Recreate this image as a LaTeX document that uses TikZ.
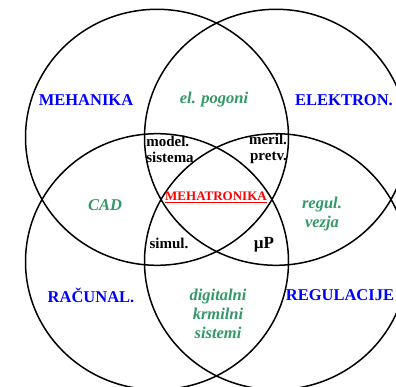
\documentclass[tikz,border=0pt]{standalone}
\usepackage{fontspec}
\setmainfont{Liberation Serif}
\definecolor{vgreen}{RGB}{51,153,102}
\begin{document}
\begin{tikzpicture}[x=1pt,y=-1pt,
  ring/.style={draw=black,line width=1.5pt},
  area/.style={inner sep=0pt,font=\fontsize{16.5}{18}\selectfont\bfseries,text=blue},
  sub/.style={inner sep=0pt,font=\fontsize{16.5}{19}\selectfont\bfseries\itshape,text=vgreen,align=center},
  pair/.style={inner sep=0pt,font=\fontsize{15}{16}\selectfont\bfseries,text=black},
  core/.style={inner sep=0pt,font=\fontsize{13}{15}\selectfont\bfseries,text=red}]
\useasboundingbox (0,0) rectangle (396,387);
\fill[white] (0,0) rectangle (396,387);
\coordinate (c1) at (157,137.3);
\coordinate (c2) at (276,137.3);
\coordinate (c3) at (157,261.7);
\coordinate (c4) at (276,261.7);
\foreach \c in {c1,c2,c3,c4}
  \draw[ring] (\c) ellipse [x radius=131.5pt, y radius=128pt];
\node[area] (meh) at (86,100) {MEHANIKA};
\node[area] (ele) at (344,100) {ELEKTRON.};
\node[area] (rac) at (91,295) {RAČUNAL.};
\node[area] (reg) at (340,295) {REGULACIJE};
\node[sub] (pog) at (214,100) {el. pogoni};
\node[sub] (cad) at (105,205) {CAD};
\node[sub] (rv) at (322,214) {regul.\\vezja};
\node[sub] (dks) at (218,314) {digitalni\\krmilni\\sistemi};
\node[pair,align=left] (mod) at (170,149) {model.\\sistema};
\node[pair,align=right] (mer) at (268,149) {meril.\\pretv.};
\node[pair] (sim) at (169,243) {simul.};
\node[pair,font=\fontsize{17}{18}\selectfont\bfseries] (mup) at (264,245) {µP};
\node[core] (mt) at (216,197) {\underline{MEHATRONIKA}};
\end{tikzpicture}
\end{document}
